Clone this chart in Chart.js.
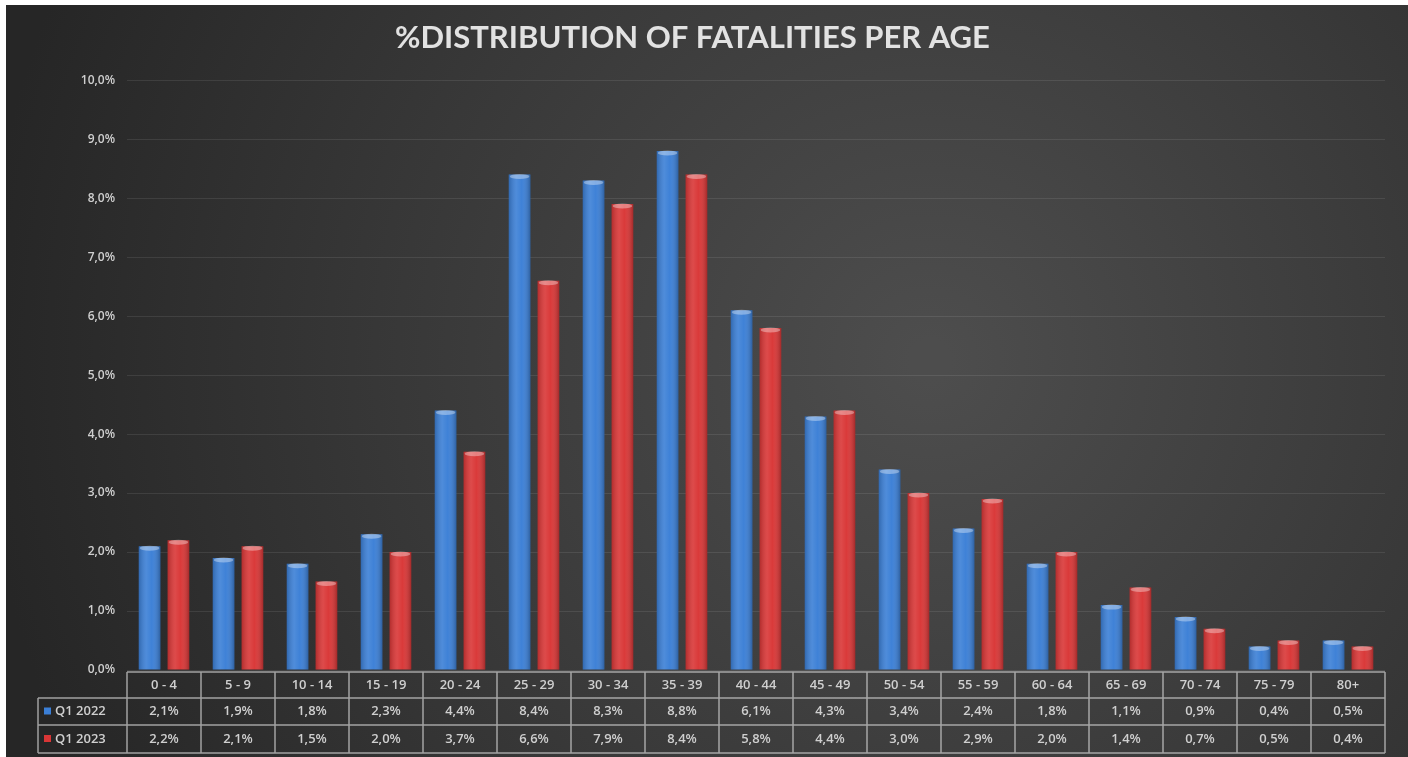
<!DOCTYPE html>
<html>
<head>
<meta charset="utf-8">
<style>
  html, body { margin: 0; padding: 0; background: #fff; }
  #wrap { width: 1408px; height: 757px; }
</style>
<script src="https://cdn.jsdelivr.net/npm/chart.js@4"></script>
</head>
<body>
<div id="wrap"><canvas id="ageChart" width="1408" height="757"></canvas></div>
<script>
// Age groups and % of fatalities per quarter
const ageGroups = ['0 - 4', '5 - 9', '10 - 14', '15 - 19', '20 - 24', '25 - 29', '30 - 34', '35 - 39',
  '40 - 44', '45 - 49', '50 - 54', '55 - 59', '60 - 64', '65 - 69', '70 - 74', '75 - 79', '80+'];
const q1_2022 = [2.1, 1.9, 1.8, 2.3, 4.4, 8.4, 8.3, 8.8, 6.1, 4.3, 3.4, 2.4, 1.8, 1.1, 0.9, 0.4, 0.5];
const q1_2023 = [2.2, 2.1, 1.5, 2.0, 3.7, 6.6, 7.9, 8.4, 5.8, 4.4, 3.0, 2.9, 2.0, 1.4, 0.7, 0.5, 0.4];
const seriesNames = ['Q1 2022', 'Q1 2023'];
const yTicks = [0, 1, 2, 3, 4, 5, 6, 7, 8, 9, 10];

const fmt = v => v.toFixed(1).replace('.', ',') + '%';
const textColor = '#cfcfcf';
const lineColor = 'rgba(200, 200, 200, 0.75)';

// background: white strip top/left + dark radial gradient
const backgroundPlugin = {
  id: 'bg',
  beforeDraw(chart) {
    const { ctx, width, height } = chart;
    ctx.save();
    ctx.fillStyle = '#ffffff';
    ctx.fillRect(0, 0, width, height);
    const g = ctx.createRadialGradient(930, 360, 20, 930, 360, 950);
    g.addColorStop(0, '#4d4d4d');
    g.addColorStop(0.55, '#383838');
    g.addColorStop(1, '#262626');
    ctx.fillStyle = g;
    ctx.fillRect(6, 5, width - 6, height - 5);
    ctx.restore();
  }
};

// cylinder shading on top of bars
const shadePlugin = {
  id: 'shade',
  afterDatasetsDraw(chart) {
    const { ctx } = chart;
    ctx.save();
    chart.data.datasets.forEach((ds, di) => {
      chart.getDatasetMeta(di).data.forEach(bar => {
        const left = bar.x - bar.width / 2;
        const g = ctx.createLinearGradient(left, 0, left + bar.width, 0);
        g.addColorStop(0, 'rgba(0,0,0,0.18)');
        g.addColorStop(0.35, 'rgba(255,255,255,0.10)');
        g.addColorStop(0.6, 'rgba(255,255,255,0.02)');
        g.addColorStop(1, 'rgba(0,0,0,0.25)');
        ctx.fillStyle = g;
        ctx.fillRect(left, bar.y, bar.width, bar.base - bar.y);
        // light cap
        ctx.fillStyle = 'rgba(255,255,255,0.35)';
        ctx.beginPath();
        ctx.ellipse(bar.x, bar.y + 2, bar.width / 2 - 1, 2.5, 0, 0, Math.PI * 2);
        ctx.fill();
      });
    });
    ctx.restore();
  }
};

// data table under the x axis
const tablePlugin = {
  id: 'dataTable',
  afterDraw(chart) {
    const { ctx, chartArea } = chart;
    const xs = chart.scales.x;
    const n = ageGroups.length;
    const colW = (chartArea.right - chartArea.left) / n;
    const legendLeft = 38;
    const rows = [chartArea.bottom + 2, 698, 725, 753];
    const colors = ['#3b7fd6', '#d93636'];
    const values = [q1_2022, q1_2023];

    ctx.save();
    ctx.strokeStyle = lineColor;
    ctx.lineWidth = 1.5;
    ctx.beginPath();
    // horizontal lines
    ctx.moveTo(chartArea.left, rows[0]); ctx.lineTo(chartArea.right, rows[0]);
    for (let r = 1; r < rows.length; r++) {
      ctx.moveTo(legendLeft, rows[r]); ctx.lineTo(chartArea.right, rows[r]);
    }
    // vertical lines
    for (let i = 0; i <= n; i++) {
      const x = chartArea.left + i * colW;
      ctx.moveTo(x, rows[0]); ctx.lineTo(x, rows[3]);
    }
    ctx.moveTo(legendLeft, rows[1]); ctx.lineTo(legendLeft, rows[3]);
    ctx.stroke();

    ctx.fillStyle = textColor;
    ctx.font = '600 13px "Open Sans", sans-serif';
    ctx.textAlign = 'center';
    ctx.textBaseline = 'middle';
    ageGroups.forEach((lab, i) => {
      const x = xs.getPixelForValue(i);
      ctx.fillText(lab, x, (rows[0] + rows[1]) / 2);
      ctx.fillText(fmt(values[0][i]), x, (rows[1] + rows[2]) / 2);
      ctx.fillText(fmt(values[1][i]), x, (rows[2] + rows[3]) / 2);
    });

    // legend cells
    ctx.textAlign = 'left';
    seriesNames.forEach((name, s) => {
      const cy = (rows[s + 1] + rows[s + 2]) / 2;
      ctx.fillStyle = colors[s];
      ctx.fillRect(legendLeft + 6, cy - 4, 7, 7);
      ctx.fillStyle = textColor;
      ctx.fillText(name, legendLeft + 17, cy);
    });
    ctx.restore();
  }
};

new Chart(document.getElementById('ageChart'), {
  type: 'bar',
  data: {
    labels: ageGroups,
    datasets: [
      { label: seriesNames[0], data: q1_2022, backgroundColor: '#3b7fd6',
        barPercentage: 0.75, categoryPercentage: 0.78 },
      { label: seriesNames[1], data: q1_2023, backgroundColor: '#d93636',
        barPercentage: 0.75, categoryPercentage: 0.78 }
    ]
  },
  options: {
    responsive: false,
    animation: false,
    layout: { padding: { top: 2, right: 23, bottom: 87, left: 0 } },
    scales: {
      x: { display: false },
      y: {
        min: 0,
        max: 10,
        afterBuildTicks: s => { s.ticks = yTicks.map(v => ({ value: v })); },
        afterFit: s => { s.width = 127; },
        ticks: {
          color: textColor,
          font: { family: '"Open Sans", sans-serif', size: 12, weight: '600' },
          padding: 12,
          callback: v => fmt(v)
        },
        grid: { color: 'rgba(255,255,255,0.09)', drawTicks: false },
        border: { display: false }
      }
    },
    plugins: {
      legend: { display: false },
      tooltip: { enabled: false },
      title: {
        display: true,
        text: '%DISTRIBUTION OF FATALITIES PER AGE',
        color: '#e2e2e2',
        font: { family: 'Lato, sans-serif', size: 31, weight: 'bold' },
        padding: { top: 17, bottom: 24 }
      }
    }
  },
  plugins: [backgroundPlugin, shadePlugin, tablePlugin]
});
</script>
</body>
</html>
